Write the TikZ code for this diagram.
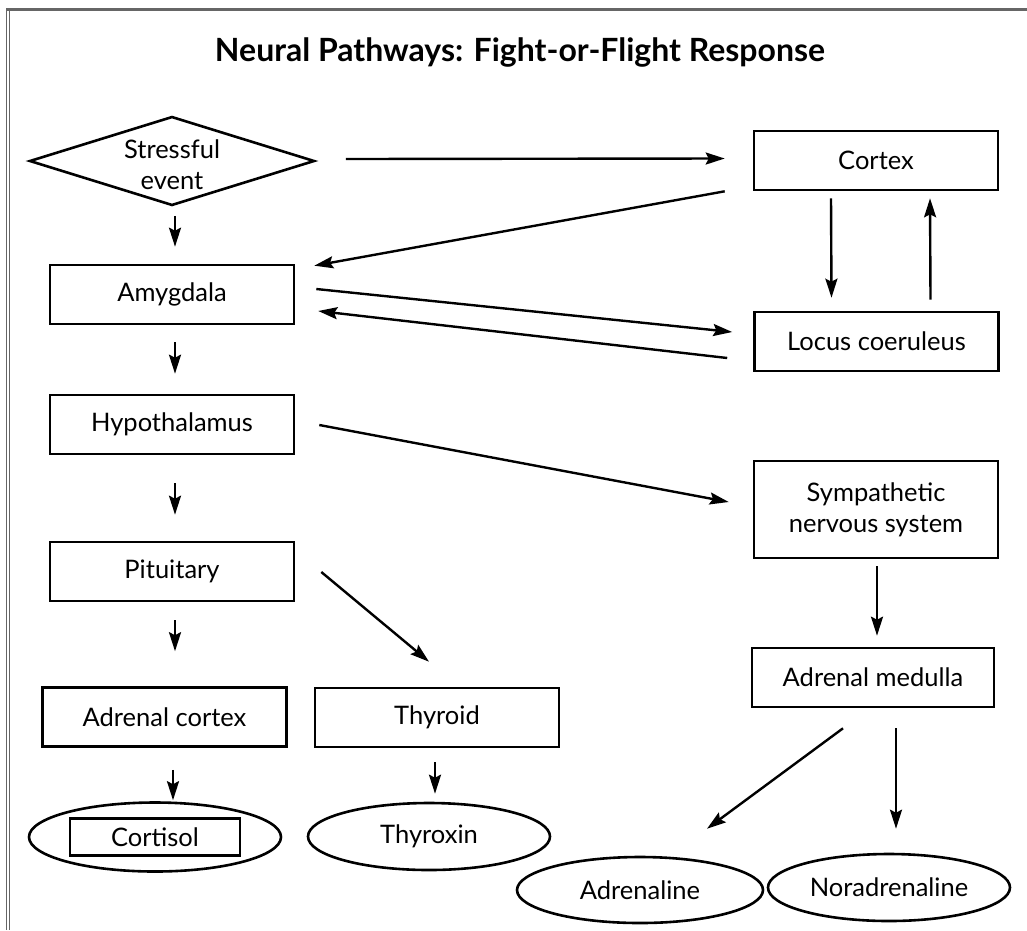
\documentclass[tikz,border=0pt]{standalone}
\usepackage{fontspec}
\setmainfont{Lato}
\usetikzlibrary{shapes.geometric, arrows.meta}

\tikzstyle{organ} = [draw, rectangle, line width=2.6pt, minimum width=244pt,
   minimum height=59pt, align=center, font=\fontsize{25.5}{31}\selectfont]
\tikzstyle{hormone} = [draw, ellipse, line width=2.6pt, inner sep=0pt,
   minimum width=244pt, minimum height=67pt, font=\fontsize{25.5}{31}\selectfont]
\tikzstyle{decision} = [draw, diamond, line width=2.6pt, inner sep=0pt,
   minimum width=285pt, minimum height=89pt]
\tikzstyle{arr} = [line width=2.4pt, -{Stealth[length=19pt, width=12pt, inset=3pt]}]

\begin{document}
\begin{tikzpicture}[x=1pt, y=-1pt]
  \useasboundingbox (0,0) rectangle (1027,930);
  % frame
  \draw[gray!80!black, line width=3pt] (6,9.5) -- (1027,9.5);
  \draw[gray!80!black, line width=1.2pt] (6.5,9) -- (6.5,930);
  \draw[gray!80!black, line width=1.2pt] (9.5,9) -- (9.5,930);

  \node[font=\bfseries\fontsize{32}{38}\selectfont] (title) at (520,52) {Neural Pathways: Fight-or-Flight Response};

  % left column
  \node[decision] (stress) at (172,161) {};
  \node[align=center, font=\fontsize{25.5}{31}\selectfont] (stresstxt) at (172,165) {Stressful\\event};
  \node[organ] (amyg) at (172,294.5) {Amygdala};
  \node[organ] (hypo) at (172,424.5) {Hypothalamus};
  \node[organ] (pit) at (172,571.5) {Pituitary};
  \node[organ] (adrcx) at (164.5,717) {Adrenal cortex};
  \node[organ] (thyroid) at (437,717.5) {Thyroid};
  \node[hormone, minimum width=252pt, minimum height=69pt] (cortisol) at (155,837) {};
  \node[draw, line width=2.6pt, minimum width=170pt, minimum height=37pt,
     font=\fontsize{25.5}{31}\selectfont] (cortbox) at (cortisol) {Cortisol};
  \node[hormone, minimum width=242pt] (thyroxin) at (429,836.5) {Thyroxin};

  % right column
  \node[organ] (cortex) at (876,160.5) {Cortex};
  \node[organ] (locus) at (876.5,341.5) {Locus coeruleus};
  \node[organ, minimum height=97pt] (symp) at (876,509.5) {Sympathetic\\nervous system};
  \node[organ, minimum width=242pt] (adrmed) at (873,677.5) {Adrenal medulla};
  \node[hormone, minimum width=246pt, minimum height=66pt] (adrenaline) at (640,890) {Adrenaline};
  \node[hormone, minimum width=242pt] (noradr) at (889,887.5) {Noradrenaline};

  % arrows down the left side
  \draw[arr] ([shift={(3,9)}]stress.south) -- ([shift={(3,-17)}]amyg.north);
  \draw[arr] ([shift={(3,17)}]amyg.south) -- ([shift={(3,-20)}]hypo.north);
  \draw[arr] ([shift={(3,28)}]hypo.south) -- ([shift={(3,-26)}]pit.north);
  \draw[arr] ([shift={(3,18)}]pit.south) -- ([shift={(10.5,-35)}]adrcx.north);
  \draw[arr] ([shift={(8.5,22)}]adrcx.south) -- ([shift={(18,-1)}]cortisol.north);
  \draw[arr] ([shift={(-2,14)}]thyroid.south) -- ([shift={(6,-8)}]thyroxin.north);
  \draw[arr] ([shift={(26,0.5)}]pit.east) -- ([shift={(-8,-25)}]thyroid.north);

  % across the middle
  \draw[arr] ([shift={(30,-2)}]stress.east) -- ([shift={(-28,-2)}]cortex.west);
  \draw[arr] ([shift={(-28,0)}]cortex.south west) -- ([shift={(19,2)}]amyg.north east);
  \draw[arr] ([shift={(21,-5.5)}]amyg.east) -- ([shift={(-21,-9.5)}]locus.west);
  \draw[arr] ([shift={(-26,16.5)}]locus.west) -- ([shift={(23,16.5)}]amyg.east);
  \draw[arr] ([shift={(24,0.5)}]hypo.east) -- ([shift={(-24,-7.5)}]symp.west);

  % right side
  \draw[arr] ([shift={(-45,7)}]cortex.south) -- ([shift={(-45,-13)}]locus.north);
  \draw[arr] ([shift={(54,-11)}]locus.north) -- ([shift={(54,7)}]cortex.south);
  \draw[arr] ([shift={(1,7)}]symp.south) -- ([shift={(4,-11)}]adrmed.north);
  \draw[arr] ([shift={(-30,20)}]adrmed.south) -- ([shift={(67,-27)}]adrenaline.north);
  \draw[arr] ([shift={(23,20)}]adrmed.south) -- ([shift={(7,-24)}]noradr.north);
\end{tikzpicture}
\end{document}
